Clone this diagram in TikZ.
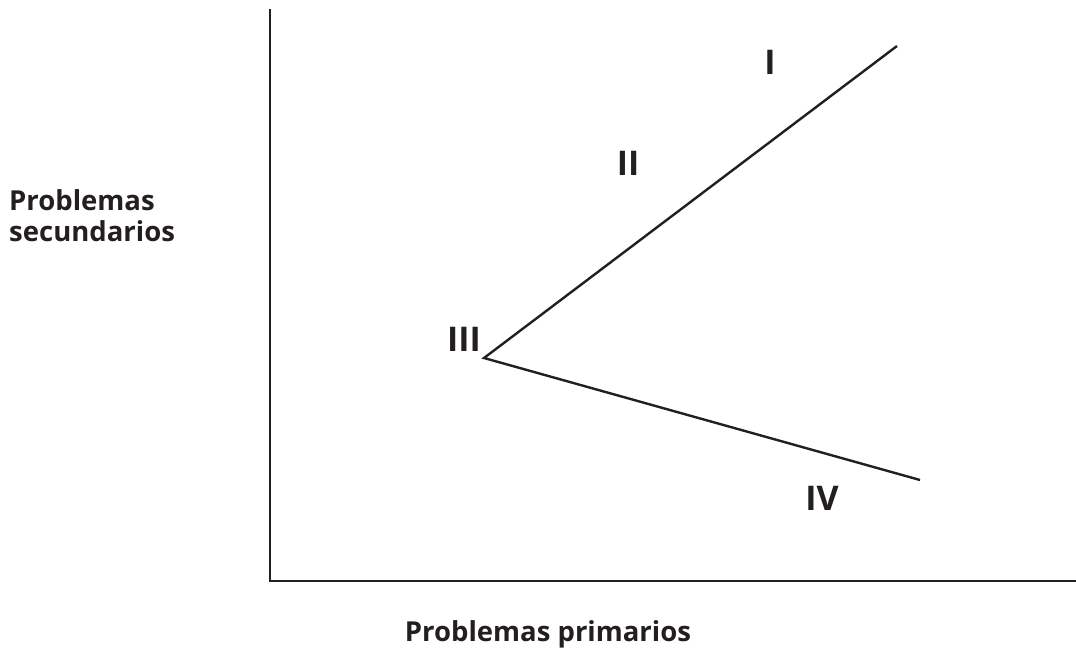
\documentclass[tikz,border=0pt]{standalone}
\usepackage{fontspec}
\setmainfont{Open Sans}
\definecolor{ink}{HTML}{231F20}
\begin{document}
\begin{tikzpicture}[x=1pt,y=-1pt,
  axis/.style={draw=ink,line width=2.4pt},
  curve/.style={draw=ink,line width=2.4pt,line join=miter},
  lbl/.style={text=ink,font=\bfseries\fontsize{27.5}{31}\selectfont,inner sep=0pt},
  num/.style={text=ink,font=\bfseries\fontsize{34}{36}\selectfont,inner sep=0pt}]
\useasboundingbox (0,0) rectangle (1076,652);
\coordinate (top) at (270,9);
\coordinate (origin) at (270,581);
\coordinate (right) at (1076,581);
\coordinate (vertex) at (484,358);
\coordinate (endI) at (897,46);
\coordinate (endIV) at (920,480);
\draw[axis] (top) -- (origin) -- (right);
\draw[curve] (endI) -- (vertex) -- (endIV);
\node[num] (nI) at (770,62) {I};
\node[num] (nII) at (628,163) {II};
\node[num] (nIII) at (464,339) {III};
\node[num] (nIV) at (822,498) {IV};
\node[lbl,align=left,anchor=west] (ylab) at (9,216) {Problemas\\secundarios};
\node[lbl] (xlab) at (548,634) {Problemas primarios};
\end{tikzpicture}
\end{document}
